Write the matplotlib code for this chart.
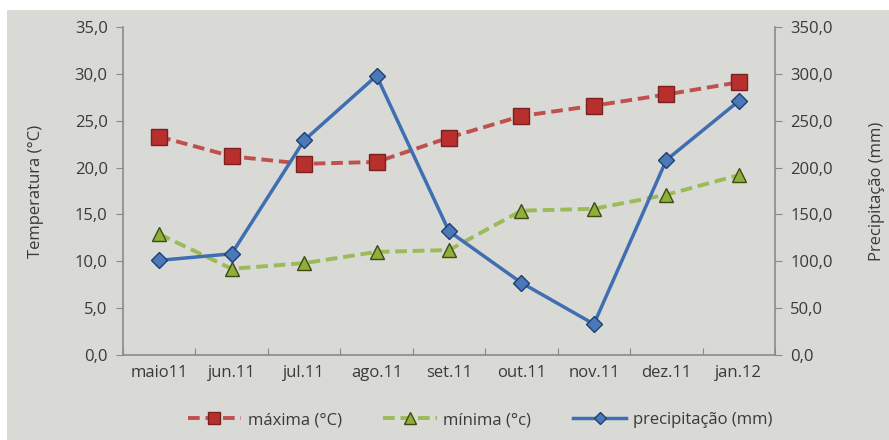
import matplotlib
matplotlib.use("Agg")
import matplotlib.pyplot as plt
from matplotlib.patches import Rectangle
from matplotlib.ticker import FuncFormatter

months = ["maio11", "jun.11", "jul.11", "ago.11", "set.11", "out.11", "nov.11", "dez.11", "jan.12"]
maxima = [23.3, 21.2, 20.4, 20.6, 23.2, 25.5, 26.6, 27.8, 29.1]
minima = [12.9, 9.2, 9.8, 11.0, 11.2, 15.4, 15.6, 17.1, 19.2]
precip = [101, 108, 229, 298, 132, 77, 33, 208, 271]

plt.rcParams['font.family'] = ['Open Sans', 'DejaVu Sans']

fig = plt.figure(figsize=(8.89, 4.40), dpi=100, facecolor='white')
bg = '#d9d9d5'
fig.patches.append(Rectangle((7/889, 0), 1, 1 - 10/440, transform=fig.transFigure,
                             facecolor=bg, edgecolor='none', zorder=-10))
ax = fig.add_axes([123/889, 1 - 355/440, (775 - 123)/889, (355 - 27)/440])
ax.set_facecolor('none')
ax2 = ax.twinx()
ax2.set_facecolor('none')

x = list(range(len(months)))
text_c = '#3a3a3a'
spine_c = '#8a8a8a'

l1, = ax.plot(x, maxima, color='#c0504d', lw=2.8, ls=(0, (3, 1.5)), marker='s', ms=11,
              mfc='#b8302e', mec='#7a2020', mew=1, label='máxima (°C)')
l2, = ax.plot(x, minima, color='#9bbb59', lw=2.8, ls=(0, (3, 1.5)), marker='^', ms=10,
              mfc='#8fae3a', mec='#3e4a14', mew=1, label='mínima (°c)')
l3, = ax2.plot(x, precip, color='#3f6fb0', lw=2.5, marker='D', ms=8,
               mfc='#4a78b8', mec='#1f3f6f', mew=1, label='precipitação (mm)')

ax.set_xlim(-0.5, len(months) - 0.5)
ax.set_ylim(0, 35)
ax2.set_ylim(0, 350)
ax.set_yticks([0, 5, 10, 15, 20, 25, 30, 35])
ax2.set_yticks([0, 50, 100, 150, 200, 250, 300, 350])
ax.yaxis.set_major_formatter(FuncFormatter(lambda v, p: f"{v:.1f}".replace('.', ',')))
ax2.yaxis.set_major_formatter(FuncFormatter(lambda v, p: f"{v:.1f}".replace('.', ',')))
ax.set_xticks([i - 0.5 for i in range(len(months) + 1)], minor=False)
ax.set_xticklabels([])
ax.set_xticks(x, minor=True)
ax.set_xticklabels(months, minor=True)
ax.tick_params(axis='x', which='minor', length=0, pad=7, labelsize=12, labelcolor=text_c)
ax.tick_params(axis='x', which='major', length=5, direction='in', color=spine_c)

for a in (ax, ax2):
    a.spines['top'].set_visible(False)
    for s in ('left', 'right', 'bottom'):
        a.spines[s].set_color(spine_c)
        a.spines[s].set_linewidth(1.2)
    a.tick_params(axis='y', length=5, color=spine_c, labelsize=12, labelcolor=text_c, pad=6)
ax.spines['right'].set_visible(False)
ax2.spines['left'].set_visible(False)
ax2.spines['bottom'].set_visible(False)

ax.set_ylabel('Temperatura (°C)', fontsize=12, color=text_c, labelpad=22)
ax2.set_ylabel('Precipitação (mm)', fontsize=12, color=text_c, labelpad=26)

fig.legend(handles=[l1, l2, l3], loc='center', bbox_to_anchor=(0.54, 1 - 420/440), ncol=3,
           frameon=False, fontsize=12, labelcolor=text_c, handlelength=3.2, columnspacing=2.5,
           handletextpad=0.4, markerscale=0.8)

fig.savefig('out.png', dpi=100, facecolor=fig.get_facecolor())
